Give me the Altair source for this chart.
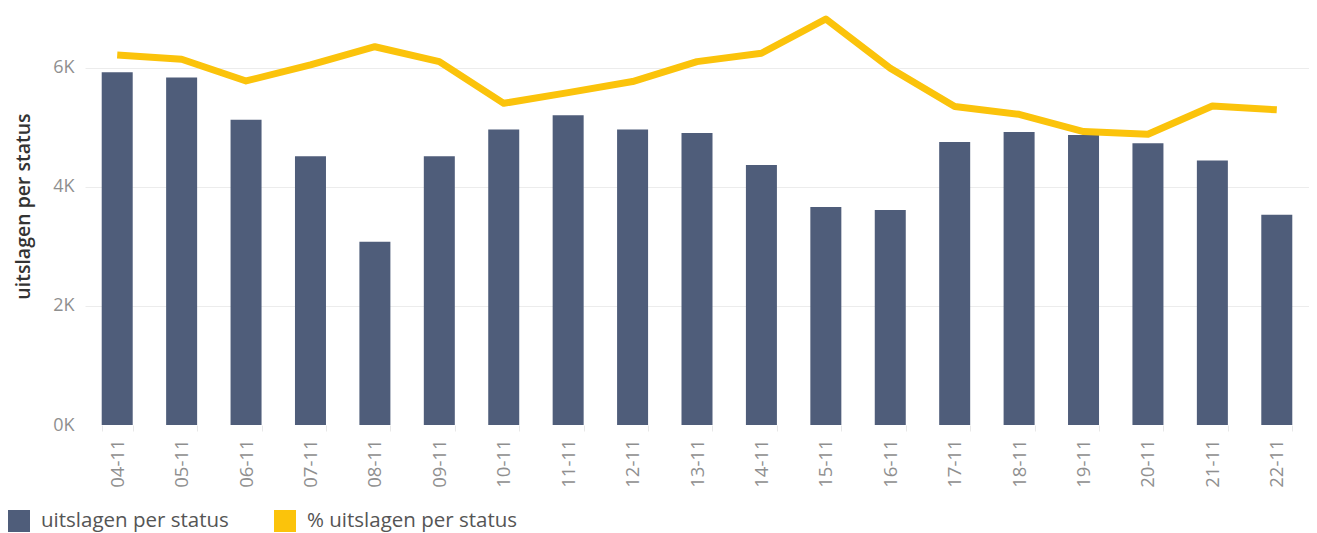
import altair as alt
import pandas as pd

dates = ["04-11", "05-11", "06-11", "07-11", "08-11", "09-11", "10-11", "11-11",
         "12-11", "13-11", "14-11", "15-11", "16-11", "17-11", "18-11", "19-11",
         "20-11", "21-11", "22-11"]
uitslagen = [5920, 5835, 5125, 4510, 3075, 4510, 4960, 5200, 4960, 4900, 4365,
             3660, 3610, 4750, 4920, 4870, 4730, 4440, 3530]
pct_uitslagen = [12.42, 12.28, 11.55, 12.09, 12.70, 12.20, 10.80, 11.16, 11.53,
                 12.20, 12.48, 13.63, 11.98, 10.69, 10.43, 9.85, 9.76, 10.71, 10.58]
series = ["uitslagen per status", "% uitslagen per status"]
colors = ["#4F5D7A", "#FBC30B"]
y_ticks = [0, 2000, 4000, 6000]

df = pd.DataFrame({"datum": dates, "uitslagen": uitslagen, "pct": pct_uitslagen})

FONT = "Open Sans"

x_enc = alt.X(
    "datum:N",
    sort=dates,
    title=None,
    scale=alt.Scale(paddingInner=0.52, paddingOuter=0.26),
    axis=alt.Axis(labelAngle=-90, labelFontSize=18.5, labelColor="#8f8f8f",
                  labelFont=FONT, labelPadding=8, domain=False, ticks=True,
                  tickBand="extent", tickColor="#e8e8e8", tickSize=6,
                  labelBaseline="middle", labelAlign="right"),
)

color_enc = alt.Color(
    "serie:N",
    scale=alt.Scale(domain=series, range=colors),
    legend=alt.Legend(title=None, orient="none", legendX=-77, legendY=502,
                      direction="horizontal", symbolType="square",
                      symbolSize=484, symbolStrokeWidth=0, labelFontSize=20.5,
                      labelColor="#555555", labelFont=FONT, labelOffset=11,
                      labelLimit=1000, columnPadding=45, symbolOpacity=1),
)

bars = alt.Chart(df).transform_calculate(
    serie="'uitslagen per status'"
).mark_bar(size=31).encode(
    x=x_enc,
    y=alt.Y("uitslagen:Q", title="uitslagen per status",
            scale=alt.Scale(domain=[0, 7000], nice=False),
            axis=alt.Axis(values=y_ticks, labelExpr="datum.value/1000 + 'K'",
                          labelFontSize=18, labelColor="#8f8f8f", labelFont=FONT,
                          labelPadding=11, ticks=False, domain=False,
                          gridColor={"condition": {"test": "datum.value === 0", "value": "transparent"}, "value": "#ececec"},
                          titleFontSize=19.5, titleFont=FONT, titleColor="#333333",
                          titleFontWeight=600, titlePadding=19, titleY=198)),
    color=color_enc,
)

line = alt.Chart(df).transform_calculate(
    serie="'% uitslagen per status'"
).mark_line(strokeWidth=7, strokeJoin="round", strokeCap="butt").encode(
    x=alt.X("datum:N", sort=dates),
    y=alt.Y("pct:Q", scale=alt.Scale(domain=[0, 14], nice=False), axis=None),
    color=color_enc,
)

chart = alt.layer(bars, line).resolve_scale(y="independent").properties(
    width=1224,
    height=417,
    background="white",
    autosize=alt.AutoSizeParams(type="none"),
    padding={"left": 77, "top": 0, "right": 0, "bottom": 108},
).configure_view(stroke=None)

chart.save("out.html", embed_options={"renderer": "svg", "actions": False})
